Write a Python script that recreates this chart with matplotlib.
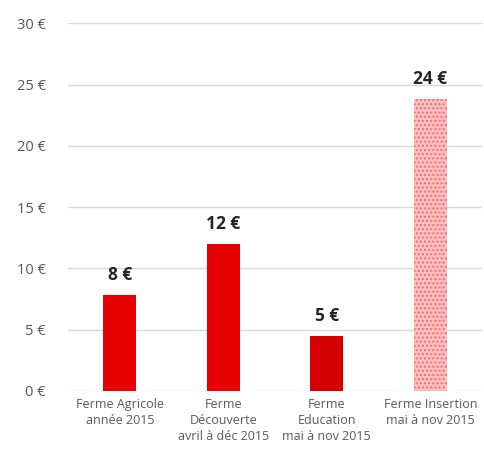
import matplotlib
matplotlib.use("Agg")
import matplotlib.pyplot as plt

plt.rcParams["font.family"] = ["Open Sans", "DejaVu Sans"]
plt.rcParams["hatch.linewidth"] = 1.0

# ── Data ──────────────────────────────────────────────────────────────────────
categories = [
    "Ferme Agricole\nannée 2015",
    "Ferme\nDécouverte\navril à déc 2015",
    "Ferme\nEducation\nmai à nov 2015",
    "Ferme Insertion\nmai à nov 2015",
]
values = [7.8, 12.0, 4.5, 23.8]
value_labels = ["8 €", "12 €", "5 €", "24 €"]
yticks = [0, 5, 10, 15, 20, 25, 30]

RED = "#E60000"
DARK_RED = "#D60000"
GREY = "#595959"

fig = plt.figure(figsize=(4.84, 4.55), dpi=100)
ax = fig.add_axes([0.1405, 0.1407, 0.8555, 0.8083])

xs = range(len(categories))
bars = ax.bar(xs, values, width=0.32, color=[RED, RED, DARK_RED, "#FFC0C0"],
              linewidth=0, zorder=3)
# last bar: dotted pink fill
bars[3].set_hatch("....")
bars[3].set_edgecolor("#F46A6A")

for x, v, lab in zip(xs, values, value_labels):
    ax.text(x, v + 0.9, lab, ha="center", va="bottom", fontsize=12.5,
            fontweight="bold", color="#262626")

ax.set_xlim(-0.5, 3.5)
ax.set_ylim(0, 30)
ax.set_yticks(yticks)
ax.set_yticklabels([f"{t} €" for t in yticks], color=GREY, fontsize=10.5)
ax.set_xticks(list(xs))
ax.set_xticklabels(categories, color=GREY, fontsize=9, linespacing=1.3)
ax.tick_params(length=0)
ax.tick_params(axis="y", pad=16)
ax.tick_params(axis="x", pad=5)
ax.grid(axis="y", color="#D9D9D9", linewidth=1, zorder=0)
for s in ax.spines.values():
    s.set_visible(False)

fig.savefig("out.png", dpi=100)
